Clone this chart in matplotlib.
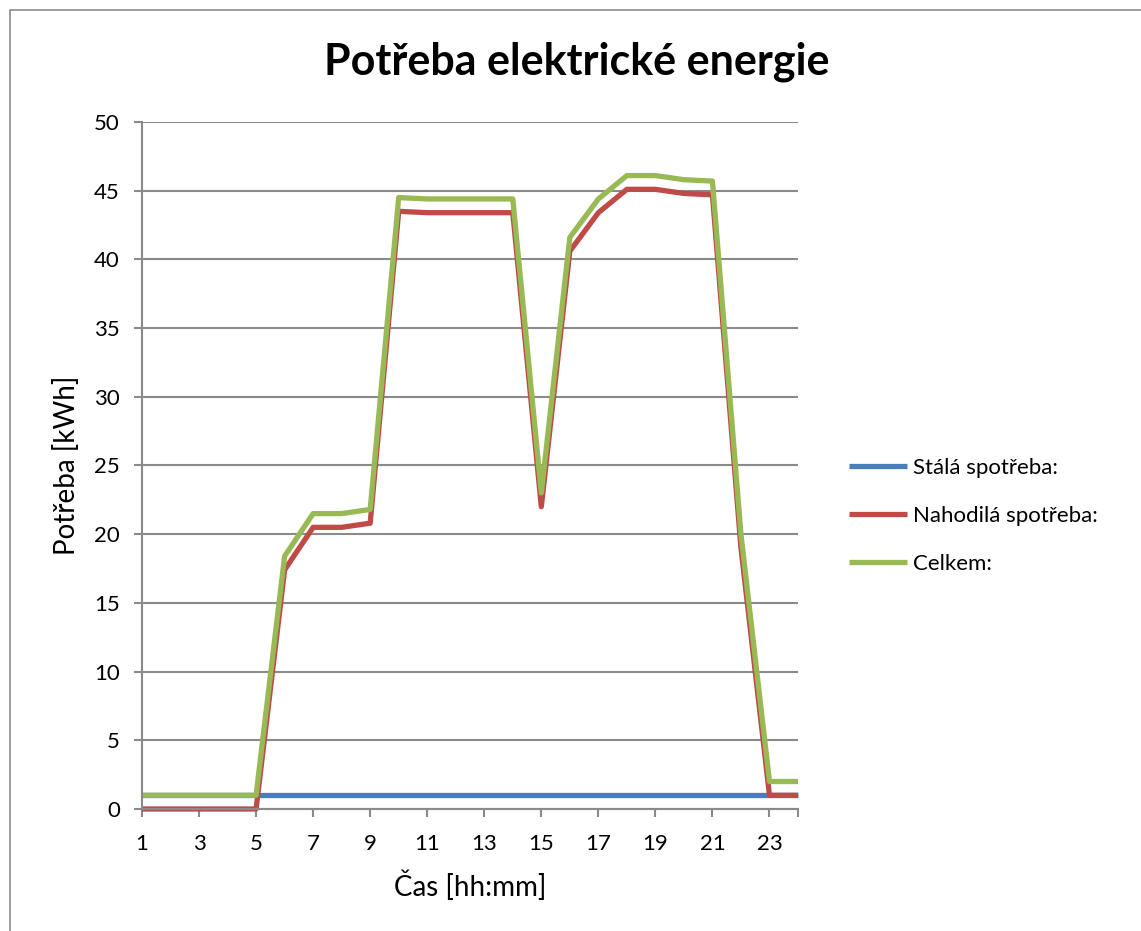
import matplotlib
matplotlib.use("Agg")
import matplotlib.pyplot as plt
from matplotlib.patches import Rectangle

hours = list(range(1, 25))
stala = [1] * 24
nahodila = [0, 0, 0, 0, 0, 17.4, 20.5, 20.5, 20.8, 43.5, 43.4, 43.4, 43.4, 43.4,
            22.0, 40.6, 43.4, 45.1, 45.1, 44.8, 44.7, 19.0, 1, 1]
celkem = [1, 1, 1, 1, 1, 18.4, 21.5, 21.5, 21.8, 44.5, 44.4, 44.4, 44.4, 44.4,
          23.0, 41.6, 44.4, 46.1, 46.1, 45.8, 45.7, 20.0, 2, 2]
labels = ["Stálá spotřeba:", "Nahodilá spotřeba:", "Celkem:"]
colors = ["#4A7EBB", "#BE4B48", "#98B954"]

plt.rcParams['font.family'] = ['Lato', 'DejaVu Sans']

fig = plt.figure(figsize=(11.41, 9.31), dpi=100)
fig.patches.append(Rectangle((10/1141, -0.1), 1.2, 1.1 - 10/931, transform=fig.transFigure,
                             fill=False, edgecolor="#8c8c8c", linewidth=1.2))
ax = fig.add_axes([142/1141, 1 - 809/931, (798 - 142)/1141, (809 - 122)/931])

grid_c = "#8a8a8a"
for y, lab, c in zip([stala, nahodila, celkem], labels, colors):
    ax.plot(hours, y, color=c, linewidth=3.8, label=lab, solid_joinstyle="round",
            solid_capstyle="butt", clip_on=False)

ax.set_xlim(1, 24)
ax.set_ylim(0, 50)
ax.set_yticks(range(0, 51, 5))
ax.set_xticks(list(range(1, 24, 2)) + [24])
ax.set_xticklabels([str(h) for h in range(1, 24, 2)] + [""])
ax.yaxis.grid(True, color=grid_c, linewidth=1.5)
ax.set_axisbelow(True)
for s in ["top", "right"]:
    ax.spines[s].set_visible(False)
for s in ["left", "bottom"]:
    ax.spines[s].set_color(grid_c)
    ax.spines[s].set_linewidth(1.5)
ax.tick_params(axis="both", colors=grid_c, length=6, width=1.5, labelsize=16,
               labelcolor="black")
ax.tick_params(axis="x", pad=12)
ax.tick_params(axis="y", pad=10)

ax.set_xlabel("Čas [hh:mm]", fontsize=20, labelpad=12)
ax.set_ylabel("Potřeba [kWh]", fontsize=20, labelpad=10)
fig.text(577/1141, 1 - 62/931, "Potřeba elektrické energie", ha="center", va="center",
         fontsize=31, fontweight="bold")

fig.legend(loc="center left", bbox_to_anchor=(829/1141, 1 - 516/931), frameon=False,
           fontsize=16, handlelength=2.6, handletextpad=0.3, labelspacing=1.25)

fig.savefig("out.png", dpi=100)
